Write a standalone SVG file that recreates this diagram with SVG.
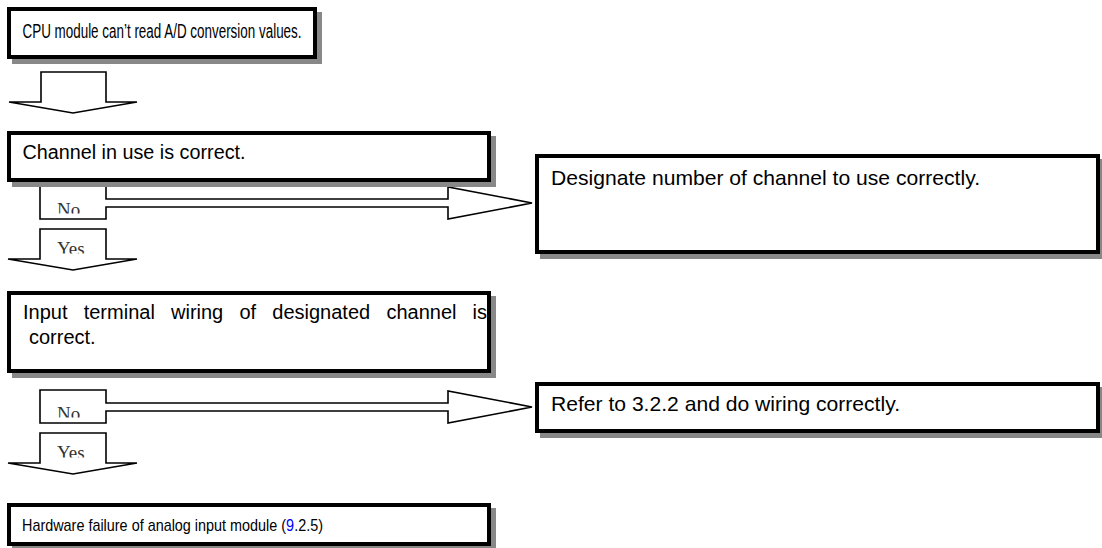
<svg xmlns="http://www.w3.org/2000/svg" width="1102" height="548" viewBox="0 0 1102 548">
<style>
.box{fill:#fff;stroke:#000;stroke-width:4}
.sh{fill:#888}
.t{font-family:"Liberation Sans",Arial,sans-serif;font-size:20px;fill:#000}
.arr{fill:#fff;stroke:#000;stroke-width:1.6;stroke-linejoin:miter}
.lbl{font-family:"Liberation Serif","Times New Roman",serif;font-size:19px;fill:#333}
</style>
<defs>
<clipPath id="cNo1"><rect x="41" y="187" width="64" height="26.5"/></clipPath>
<clipPath id="cYes1"><rect x="41" y="230" width="64" height="23.5"/></clipPath>
<clipPath id="cNo2"><rect x="41" y="391" width="64" height="26.5"/></clipPath>
<clipPath id="cYes2"><rect x="41" y="434" width="64" height="23.5"/></clipPath>
</defs>
<rect width="1102" height="548" fill="#fff"/>

<g id="connectors">
<polygon class="arr" points="41,72 106,72 106,102 137,102 73,113 9,102 41,102"/>
<polygon class="arr" points="40,186 106,186 106,199 448,199 448,187 532,203 448,219 448,207 106,207 106,219 40,219"/>
<text class="lbl" x="57" y="215.5" clip-path="url(#cNo1)">No</text>
<polygon class="arr" points="40,229 106,229 106,259 137,259 73,270 8,259 40,259"/>
<text class="lbl" x="57" y="254.5" clip-path="url(#cYes1)">Yes</text>
<polygon class="arr" points="40,390 106,390 106,403 448,403 448,391 532,407 448,423 448,411 106,411 106,423 40,423"/>
<text class="lbl" x="57" y="419.5" clip-path="url(#cNo2)">No</text>
<polygon class="arr" points="40,433 106,433 106,463 137,463 73,474 8,463 40,463"/>
<text class="lbl" x="57" y="458.5" clip-path="url(#cYes2)">Yes</text>
</g>

<g id="n1">
<rect class="sh" x="12" y="12" width="310" height="52"/>
<rect class="box" x="9" y="9" width="306" height="48"/>
<text class="t" x="22.5" y="38" textLength="279" lengthAdjust="spacingAndGlyphs">CPU module can’t read A/D conversion values.</text>
</g>

<g id="n2">
<rect class="sh" x="12" y="136" width="484" height="51"/>
<rect class="box" x="9" y="133" width="480" height="47"/>
<text class="t" x="22.5" y="159" textLength="223" lengthAdjust="spacingAndGlyphs">Channel in use is correct.</text>
</g>

<g id="n3">
<rect class="sh" x="540" y="159" width="565" height="100"/>
<rect class="box" x="537" y="156" width="561" height="96"/>
<text class="t" x="551" y="185" style="font-size:21px" textLength="429" lengthAdjust="spacingAndGlyphs">Designate number of channel to use correctly.</text>
</g>

<g id="n4">
<rect class="sh" x="12" y="296" width="484" height="82"/>
<rect class="box" x="9" y="293" width="480" height="78"/>
<text class="t" y="319"><tspan x="23">Input</tspan><tspan x="83.7">terminal</tspan><tspan x="171">wiring</tspan><tspan x="239.4">of</tspan><tspan x="272.3">designated</tspan><tspan x="386.4">channel</tspan><tspan x="472.6">is</tspan></text>
<text class="t" x="29" y="344">correct.</text>
</g>

<g id="n5">
<rect class="sh" x="540" y="387" width="565" height="51"/>
<rect class="box" x="537" y="384" width="561" height="47"/>
<text class="t" x="551" y="411" style="font-size:21px" textLength="349" lengthAdjust="spacingAndGlyphs">Refer to 3.2.2 and do wiring correctly.</text>
</g>

<g id="n6">
<rect class="sh" x="12" y="508" width="484" height="43"/>
<rect class="box" x="9" y="505" width="480" height="39"/>
<text class="t" transform="translate(22,531) scale(0.9,1)" x="0" y="0" style="font-size:16px">Hardware failure of analog input module (<tspan fill="#0000ff">9</tspan>.2.5)</text>
</g>
</svg>
